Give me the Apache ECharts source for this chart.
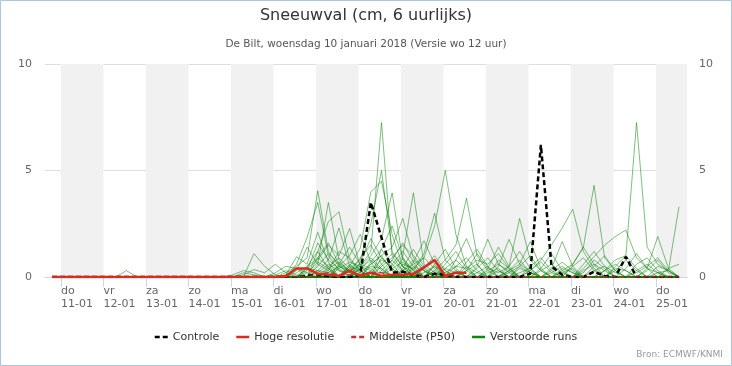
<!DOCTYPE html>
<html><head><meta charset="utf-8">
<script src="https://cdn.jsdelivr.net/npm/echarts@6/dist/echarts.min.js"></script>
<style>html,body{margin:0;padding:0;background:#fff}#c{width:732px;height:366px}</style>
</head><body><div id="c"></div>
<script>
// ---- labels ----
const titleText = 'Sneeuwval (cm, 6 uurlijks)';
const subtitleText = 'De Bilt, woensdag 10 januari 2018 (Versie wo 12 uur)';
const sourceText = 'Bron: ECMWF/KNMI';
const dayNames = ['do','vr','za','zo','ma','di','wo','do','vr','za','zo','ma','di','wo','do'];
const dayDates = ['11-01','12-01','13-01','14-01','15-01','16-01','17-01','18-01','19-01','20-01','21-01','22-01','23-01','24-01','25-01'];
// tick positions: hours since do 11-01 00:00 (local)
const dayTicks = [0,24,48,72,96,120,144,168,192,216,240,264,288,312,336];
const yTicks = [0,5,10];
// 6-hourly forecast times (hours since do 11-01 00:00 local)
const runTimes = [-5,1,7,13,19,25,31,37,43,49,55,61,67,73,79,85,91,97,103,109,115,121,127,133,139,145,151,157,163,169,175,181,187,193,199,205,211,217,223,229,235,241,247,253,259,265,271,277,283,289,295,301,307,313,319,325,331,337,343,349];

// ---- series values (cm per 6 h) ----
const controle = [0, 0,0,0,0, 0,0,0,0, 0,0,0,0, 0,0,0,0, 0,0,0,0, 0,0,0,0.05, 0.1,0.05,0,0, 0.1,3.5,1.85,0.2, 0.25,0.1,0,0.15, 0.1,0,0,0, 0,0,0,0, 0.15,6.2,0.5,0.1, 0,0,0.25,0.05, 0,0.95,0,0, 0,0,0];
const hogeResolutie = [0, 0,0,0,0, 0,0,0,0, 0,0,0,0, 0,0,0,0, 0,0,0,0, 0,0.05,0.4,0.4, 0.15,0.1,0.05,0.3, 0.05,0.2,0.05,0.1, 0.1,0.15,0.45,0.8, 0.05,0.2,0.2];
const middelste = [0, 0,0,0,0, 0,0,0,0, 0,0,0,0, 0,0,0,0, 0,0,0,0, 0,0,0,0, 0.1,0.2,0.1,0.1, 0.1,0.2,0.2,0.1, 0.1,0.1,0,0, 0,0,0,0, 0,0,0,0, 0,0,0,0, 0,0,0,0, 0,0,0,0, 0,0,0];

const run01 = [0, 0,0,0,0, 0,0,0.3,0, 0,0,0,0, 0,0,0,0, 0,0,1.1,0.5, 0.1,0,0,0, 0.3,0.8,0.4,0, 0,0,0,0, 0.2,0,0,0, 0,0,0,0, 0.3,0.6,0.2,0, 0,0,0,0, 0,0,0,0, 0,0,0,0, 0,0,0];
const run02 = [0, 0,0,0,0, 0,0,0,0, 0,0,0,0, 0,0,0,0, 0,0.1,0.35,0.2, 0.6,0.2,0,0.5, 1.2,0.4,0,0, 0,0.6,1.0,0.3, 0,0,0,0.2, 0,0,0,0, 0,0,0,0, 0,0,0,0, 0,0,0,0, 0,0,0,0, 0,0,0];
const run03 = [0, 0,0,0,0, 0,0,0,0, 0,0,0,0, 0,0,0,0, 0,0,0,0, 0,0.2,0.5,0.9, 4.05,1.2,0.5,0.3, 0.6,0.4,0,0, 0.3,0.8,0.3,0, 0,0,0,0, 0,0,0,0.2, 0.4,0,0,0, 0,0,0,0, 0,0,0,0, 0,0,0];
const run04 = [0, 0,0,0,0, 0,0,0,0, 0,0,0,0, 0,0,0,0, 0,0,0,0, 0,0,0.3,1.4, 0.6,3.5,0.8,0.2, 0,0,0.9,0.4, 0,0,0,0, 0,0.3,0,0, 0,0,0,0, 0,0,0.2,0.5, 0.2,0,0,0, 0,0,0,0, 0,0,0];
const run05 = [0, 0,0,0,0, 0,0,0,0, 0,0,0,0, 0,0,0,0, 0,0,0,0, 0,0,0.6,1.86, 3.5,1.0,0.3,0, 0.4,0.8,0.3,0, 0,0,0.2,0.5, 0,0,0,0, 0,0,0,0, 0,0,0,0, 0,0.3,0.6,0.3, 0,0,0,0, 0,0,0];
const run06 = [0, 0,0,0,0, 0,0,0,0, 0,0,0,0, 0,0,0,0, 0,0,0,0, 0,0,0,0, 1.2,2.6,3.06,0.8, 0.3,0,0,0.6, 1.2,0.5,0,0, 0,0,0,0.2, 0.5,0,0,0, 0,0,0,0, 0,0,0,0, 0,0,0,0, 0,0,0];
const run07 = [0, 0,0,0,0, 0,0,0,0, 0,0,0,0, 0,0,0,0, 0,0,0,0, 0,0,0,0.4, 0.8,1.5,1.0,2.28, 0.5,0,1.3,0.6, 0,0,0,0, 0.4,0.8,0.3,0, 0,0,0,0, 0,0,0,0, 0,0,0,0, 0,0,0.3,0.6, 0.2,0,0];
const run08 = [0, 0,0,0,0, 0,0,0,0, 0,0,0,0, 0,0,0,0, 0,0,0,0, 0,0,0,0, 0,0,0.4,0.7, 0.5,1.2,7.25,1.0, 0.3,0,0,0.3, 0,0,0,0, 0,0,0,0.4, 0.2,0,0,0, 0,0,0,0, 0,0,0,0, 0,0,0];
const run09 = [0, 0,0,0,0, 0,0,0,0, 0,0,0,0, 0,0,0,0, 0,0,0,0, 0,0,0,0, 0,0.5,0.9,0.4, 0.8,2.5,5.0,1.2, 0.5,0,0,0, 0,0,0.3,0.6, 0,0,0,0, 0,0,0,0, 0,0,0,0, 0,0,0,0, 0,0,0];
const run10 = [0, 0,0,0,0, 0,0,0,0, 0,0,0,0, 0,0,0,0, 0,0,0,0, 0,0,0,0, 0.6,0.3,0,0.5, 1.35,4.0,4.5,2.0, 0.5,0.2,0,0, 0,0,0,0, 0,0.3,0,0, 0,0,0,0, 0,0,0,0, 0,0,0,0, 0,0,0];
const run11 = [0, 0,0,0,0, 0,0,0,0, 0,0,0,0, 0,0,0,0, 0,0,0,0, 0,0,0,0, 0,0,0,0.3, 0.5,1.0,1.8,3.95, 0.8,0.3,0,0, 0,0,0,0, 0,0,0,0, 0.3,0.7,0.2,0, 0,0,0,0, 0,0,0,0, 0,0,0];
const run12 = [0, 0,0,0,0, 0,0,0,0, 0,0,0,0, 0,0,0,0, 0,0,0,0, 0,0,0,0, 0,0,0,0, 0.2,0.6,1.0,1.4, 2.75,0.9,0.3,0, 0,0,0,0, 0,0,0,0, 0,0,0,0.4, 0.2,0,0,0, 0,0,0,0, 0,0,0];
const run13 = [0, 0,0,0,0, 0,0,0,0, 0,0,0,0, 0,0,0,0, 0,0,0,0, 0,0,0,0, 0,0,0,0, 0,0.3,0.8,0.5, 1.0,3.95,0.6,0.2, 0,0,0,0, 0,0,0.3,0.8, 0.2,0,0,0, 0,0,0,0, 0,0,0,0, 0,0,0];
const run14 = [0, 0,0,0,0, 0,0,0,0, 0,0,0,0, 0,0,0,0, 0,0,0,0, 0,0,0,0, 0,0,0,0, 0,0,0,0.4, 0.7,0.3,1.1,3.0, 0.8,0.3,0,0, 0,0,0,0, 0,0,0,0, 0,0,0,0, 0.4,0.3,0,0, 0,0,0];
const run15 = [0, 0,0,0,0, 0,0,0,0, 0,0,0,0, 0,0,0,0, 0,0,0,0, 0,0,0,0, 0,0,0,0, 0,0,0,0, 0.3,0.6,0.9,2.4, 5.0,2.0,0.5,0, 0,0,0,0, 0,0,0,0, 0,0,0,0, 0,0,0,0, 0,0,0];
const run16 = [0, 0,0,0,0, 0,0,0,0, 0,0,0,0, 0,0,0,0, 0,0,0,0, 0,0,0,0, 0,0,0,0, 0,0,0,0, 0,0,0,0.3, 0.8,1.5,3.7,1.0, 0.3,0,0,0, 0,0,0,0, 0,0,0.3,0.5, 0.2,0,0,0, 0,0,0];
const run17 = [0, 0,0,0,0, 0,0,0,0, 0,0,0,0, 0,0,0,0, 0,0,0,0, 0,0,0,0, 0,0,0,0, 0,0,0,0, 0,0,0,0, 0,0,0.3,1.1, 0.4,0.2,0.5,2.75, 0.8,0.3,0,0, 0,0,0,0, 0,0,0,0, 0,0,0];
const run18 = [0, 0,0,0,0, 0,0,0,0, 0,0,0,0, 0,0,0,0, 0,0,0,0, 0,0,0,0, 0,0,0,0, 0,0,0,0, 0,0,0,0, 0,0,0,0.5, 1.77,0.6,0.3,0, 0,0,0.4,1.66, 0.5,0,0,0, 0,0,0,0, 0,0,0];
const run19 = [0, 0,0,0,0, 0,0,0,0, 0,0,0,0, 0,0,0,0, 0,0,0,0, 0,0,0,0, 0,0,0,0, 0,0,0,0, 0,0,0,0, 0,0,0,0, 0.4,1.4,0.5,0, 0,0,0,0, 0.6,1.4,0.6,0, 0,0,0,0, 0.5,0.3,0];
const run20 = [0, 0,0,0,0, 0,0,0,0, 0,0,0,0, 0,0,0,0, 0,0,0,0, 0,0,0,0, 0,0,0,0, 0,0,0,0, 0,0,0,0, 0,0,0,0, 0,0.5,1.77,0.6, 1.66,0.4,0,0, 0,0,0,0, 0,0,0,0, 0,0,0];
const run21 = [0, 0,0,0,0, 0,0,0,0, 0,0,0,0, 0,0,0,0, 0,0,0,0, 0,0,0,0, 0,0,0,0, 0,0,0,0, 0,0,0,0, 0,0,0,0, 0,0,0,0, 0.3,0.8,1.5,2.3, 3.18,1.2,0.4,0, 0,0,0,0, 0,0,0];
const run22 = [0, 0,0,0,0, 0,0,0,0, 0,0,0,0, 0,0,0,0, 0,0,0,0, 0,0,0,0, 0,0,0,0, 0,0,0,0, 0,0,0,0, 0,0,0,0, 0,0,0,0, 0,0,0,0.3, 0.6,1.4,4.3,0.9, 0.3,0,0,0, 0,0,0];
const run23 = [0, 0,0,0,0, 0,0,0,0, 0,0,0,0, 0,0,0,0, 0,0,0,0, 0,0,0,0, 0,0,0,0, 0,0,0,0, 0,0,0,0, 0,0,0,0, 0,0,0,0, 0,0,0,0, 0,0.4,0.95,1.5, 1.9,2.2,0.9,0.4, 0.2,0,0];
const run24 = [0, 0,0,0,0, 0,0,0,0, 0,0,0,0, 0,0,0,0, 0,0,0,0, 0,0,0,0, 0,0,0,0, 0,0,0,0, 0,0,0,0, 0,0,0,0, 0,0,0,0, 0,0,0,0, 0,0,0,0.3, 0.8,1.0,7.25,1.4, 0.6,0.3,0];
const run25 = [0, 0,0,0,0, 0,0,0,0, 0,0,0,0, 0,0,0,0, 0,0,0,0, 0,0,0,0, 0,0,0,0, 0,0,0,0, 0,0,0,0, 0,0,0,0, 0,0,0,0, 0,0,0,0, 0,0,0,0, 0,0,0,0.4, 1.9,0.4,0];
const run26 = [0, 0,0,0,0, 0,0,0,0, 0,0,0,0, 0,0,0,0, 0,0,0,0, 0,0,0,0, 0,0,0,0, 0,0,0,0, 0,0,0,0, 0,0,0,0, 0,0,0.3,0.6, 0.3,0,0,0, 0,0,0,0, 0,0,0,0, 0.2,0.3,3.3];
const run27 = [0, 0,0,0,0, 0,0,0,0, 0,0,0,0, 0,0,0,0, 0,0,0,0, 0,0,0,0, 0,0,0,0, 0,0,0,0, 0,0,0,0, 0.2,0.5,0.4,0.8, 0.6,1.1,0.4,0, 0,0,0,0, 0,0,0,0, 0.5,1.0,0.4,0, 0,0,0];
const run28 = [0, 0,0,0,0, 0,0,0,0, 0,0,0,0, 0,0,0,0, 0,0,0,0, 0.2,0.5,0.4,0, 0.9,1.6,0.6,0, 0,0.5,0.4,0, 0,0,0,0, 0,0,0,0, 0,0,0,0, 0,0.3,0.6,0.2, 0,0,0,0, 0,0,0,0, 0,0,0];
const run29 = [0, 0,0,0,0, 0,0,0,0, 0,0,0,0, 0,0,0,0, 0,0,0,0, 0,0.1,0.95,0.6, 2.1,0.7,0,0.6, 0.2,0,0,0, 0,0.4,0.9,0.4, 0,0,0,0, 0,0,0,0, 0,0,0,0, 0,0,0,0, 0,0,0,0, 0,0,0];
const run30 = [0, 0,0,0,0, 0,0,0,0, 0,0,0,0, 0,0,0,0, 0,0,0,0, 0,0,0,0.3, 1.6,0.8,2.3,0.5, 0,0,0,0.8, 1.6,0.7,0,0, 0,0,0.5,0.2, 0,0,0,0, 0,0,0,0, 0,0,0,0, 0,0,0,0, 0,0,0];
const run31 = [0, 0,0,0,0, 0,0,0,0, 0,0,0,0, 0,0,0,0, 0,0,0,0, 0,0,0,0, 0.5,1.1,0.6,1.4, 0.6,0,0,0, 0,0.5,0.3,0, 0,0,0,0, 0,0,0,0, 0,0,0,0, 0.5,0.9,0.3,0, 0,0,0,0, 0,0,0];
const run32 = [0, 0,0,0,0, 0,0,0,0, 0,0,0,0, 0,0,0,0, 0,0,0,0, 0,0,0.2,0.5, 0.9,0.5,0,0, 0.7,1.8,0.9,0.4, 0,0,0,0, 0.6,1.2,0.4,0, 0,0,0,0, 0,0,0,0, 0,0,0,0, 0,0,0,0, 0,0,0];
const run33 = [0, 0,0,0,0, 0,0,0,0, 0,0,0,0, 0,0,0,0, 0,0,0,0, 0,0,0,0, 0,0.3,1.2,0.9, 0.3,0,0.6,1.1, 0.5,0,0,0, 0,0,0,0, 0.2,0.4,0,0, 0,0,0,0, 0,0,0,0, 0,0,0.6,0.9, 0.3,0,0];
const run34 = [0, 0,0,0,0, 0,0,0,0, 0,0,0,0, 0,0,0,0, 0,0,0,0, 0,0,0,0, 0,0,0.5,1.0, 2.0,0.7,0,0, 0.4,1.3,0.5,0, 0,0,0,0, 0,0,0,0.5, 1.0,0.3,0,0, 0,0,0,0, 0,0,0,0, 0,0,0];
const run35 = [0, 0,0,0,0, 0,0,0,0, 0,0,0,0, 0,0,0,0, 0,0,0,0, 0,0,0,0, 0.2,0.6,0.3,0.2, 0.9,1.5,0.6,0, 0,0,0.4,1.0, 0.3,0,0,0, 0,0,0,0, 0,0,0,0, 0,0.2,0.8,0.4, 0,0,0,0, 0,0,0];
const run36 = [0, 0,0,0,0, 0,0,0,0, 0,0,0,0, 0,0,0,0, 0,0,0,0, 0,0,0,0.2, 0.7,0.4,0,0, 0,0.7,1.3,2.4, 0.9,0,0,0, 0,0.5,0.9,0.3, 0,0,0,0, 0,0,0,0, 0,0,0,0, 0,0,0,0, 0,0,0];
const run37 = [0, 0,0,0,0, 0,0,0,0, 0,0,0,0, 0,0,0,0, 0,0,0,0, 0,0,0,0, 0,0,0,0.4, 0.2,0,0.5,0.9, 1.5,1.0,0.4,0, 0,0,0,0.4, 0.9,0.3,0,0, 0,0,0,0, 0,0,0,0.3, 0.6,0.3,0,0, 0,0,0];
const run38 = [0, 0,0,0,0, 0,0,0,0, 0,0,0,0, 0,0,0,0, 0.1,0.3,0.2,0, 0,0,0,0, 0,0.4,0.7,0.3, 0,0,0,0, 0,0.7,1.7,0.6, 0,0,0,0, 0,0,0,0, 0,0,0.3,0.7, 0.3,0,0,0, 0,0,0,0, 0,0.4,0.6];
const run39 = [0, 0,0,0,0, 0,0,0,0, 0,0,0,0, 0,0,0,0, 0,0.2,0.1,0, 0,0,0.4,0.2, 0,0,0,0, 0.5,0.3,0,0, 0,0,0,0.6, 1.3,0.4,0,0, 0,0,0.5,1.2, 0.4,0,0,0, 0,0,0,0, 0,0,0,0, 0,0,0];
const run40 = [0, 0,0,0,0, 0,0,0,0, 0,0,0,0, 0,0,0,0, 0,0,0,0, 0,0,0,0, 0.3,0.2,0,0, 0,0,0.3,0.8, 0.3,0,0,0, 0,0.8,1.8,0.6, 0,0,0,0, 0,0.4,1.1,0.3, 0,0,0,0, 0,0,0,0.3, 0.8,0.2,0];
const run41 = [0, 0,0,0,0, 0,0,0,0, 0,0,0,0, 0,0,0,0, 0,0,0,0, 0,0,0,0, 0,0,0,0.5, 0.3,0,0,0, 0.6,0.4,0,0, 0.4,0.2,0,0, 0,0.8,0.4,0, 0,0,0,0, 0,0.6,1.2,0.5, 0,0.4,1.1,0.4, 0,0,0];
const run42 = [0, 0,0,0,0, 0,0,0,0, 0,0,0,0, 0,0,0,0, 0,0,0,0, 0.1,0.3,0.1,0, 0,0.2,0.5,0.2, 0,0,0,0, 0,0,0.5,0.8, 0.3,0,0,0, 0,0,0,0, 0.5,0.9,0.3,0, 0,0,0,0, 0.3,0.8,0.3,0, 0,0,0];
const run43 = [0, 0,0,0,0, 0,0,0,0, 0,0,0,0, 0,0,0,0, 0,0,0,0, 0,0,0,0, 0,0,0,0, 0.4,0.9,0.4,0, 0,0,0,0, 0,0,0.7,1.3, 0.5,0,0,0, 0,0,0,0.2, 0.4,0,0,0, 0,0,0.2,0.5, 0.9,0.3,0];
const run44 = [0, 0,0,0,0, 0,0,0,0, 0,0,0,0, 0,0,0,0, 0,0,0,0, 0,0,0,0.4, 0.3,0,0.6,0.3, 0,0,0,0, 0.9,0.3,0,0.5, 0.2,0,0,0, 0,0,0.2,0.5, 0.2,0,0,0, 0,0,0.5,1.0, 0.3,0,0,0, 0,0,0];
const perturbedRuns = [run01,run02,run03,run04,run05,run06,run07,run08,run09,run10,run11,run12,run13,run14,run15,run16,run17,run18,run19,run20,run21,run22,run23,run24,run25,run26,run27,run28,run29,run30,run31,run32,run33,run34,run35,run36,run37,run38,run39,run40,run41,run42,run43,run44];

// ---- chart ----
const F = 'DejaVu Sans';
const xMin = -9, xMax = 353.5;
const pair = arr => arr.map((v, i) => [runTimes[i], v]);

const bands = [];
for (let k = 0; k < dayTicks.length; k += 2) {
  bands.push([{ xAxis: dayTicks[k] }, { xAxis: Math.min(dayTicks[k] + 24, xMax) }]);
}

const dashedIcon = 'path://M0,0h5v2.5h-5zM8,0h5v2.5h-5z';
const solidIcon = 'path://M0,0h13v2.5h-13z';

const series = [];
series.push({
  type: 'line', data: [], silent: true, z: -1, legendHoverLink: false,
  markArea: { silent: true, itemStyle: { color: '#f1f1f1' }, data: bands }
});
perturbedRuns.forEach(r => series.push({
  name: 'Verstoorde runs', type: 'line', data: pair(r), symbol: 'none', silent: true, z: 2,
  color: '#008000', lineStyle: { width: 1, color: '#008000', opacity: 0.5 }
}));
series.push({ name: 'Controle', type: 'line', data: pair(controle), symbol: 'none', silent: true, z: 3,
  color: '#000', lineStyle: { width: 2.5, type: [5, 3], color: '#000' } });
series.push({ name: 'Middelste (P50)', type: 'line', data: pair(middelste), symbol: 'none', silent: true, z: 4,
  color: '#c83232', lineStyle: { width: 1.5, type: [5, 3], color: '#c83232' } });
series.push({ name: 'Hoge resolutie', type: 'line', data: pair(hogeResolutie), symbol: 'none', silent: true, z: 5,
  color: '#dd2a1b', lineStyle: { width: 2.5, color: '#dd2a1b' } });

const graphics = [{ type: 'rect', silent: true, z: 100, shape: { x: 0.5, y: 0.5, width: 731, height: 365 },
  style: { fill: 'none', stroke: '#a9c6dd', lineWidth: 1 } }];

const chart = echarts.init(document.getElementById('c'), null, { renderer: 'canvas' });
chart.setOption({
  animation: false,
  backgroundColor: '#fff',
  title: [
    { text: titleText, left: 'center', top: 6, padding: 0, textStyle: { fontFamily: F, fontSize: 16, fontWeight: 'normal', color: '#333', lineHeight: 20 } },
    { text: subtitleText, left: 'center', top: 37, padding: 0, textStyle: { fontFamily: F, fontSize: 10.5, fontWeight: 'normal', color: '#555', lineHeight: 14 } },
    { text: sourceText, right: 9, top: 349, padding: 0, textStyle: { fontFamily: F, fontSize: 9, fontWeight: 'normal', color: '#999', lineHeight: 12 } }
  ],
  legend: {
    top: 330, left: 'center', padding: 0, itemWidth: 13, itemHeight: 2.5, itemGap: 17, selectedMode: false,
    textStyle: { fontFamily: F, fontSize: 11, color: '#333', lineHeight: 14 },
    data: [
      { name: 'Controle', icon: dashedIcon, itemStyle: { color: '#000' } },
      { name: 'Hoge resolutie', icon: solidIcon, itemStyle: { color: '#dd2a1b' } },
      { name: 'Middelste (P50)', icon: dashedIcon, itemStyle: { color: '#c83232' } },
      { name: 'Verstoorde runs', icon: solidIcon, itemStyle: { color: '#0a8a0a' } }
    ]
  },
  grid: { left: 45, right: 45, top: 64, bottom: 89, containLabel: false },
  xAxis: {
    type: 'value', min: xMin, max: xMax,
    axisLine: { show: true, lineStyle: { color: '#ccd6eb' } },
    axisTick: { show: true, customValues: dayTicks, length: 10, lineStyle: { color: '#ccd6eb' } },
    axisLabel: {
      customValues: dayTicks, align: 'left', margin: 8, color: '#666', fontFamily: F, fontSize: 11,
      formatter: v => { const k = dayTicks.indexOf(v); return '{a|' + dayNames[k] + '}\n{b|' + dayDates[k] + '}'; },
      rich: {
        a: { fontFamily: F, fontSize: 11, color: '#666', lineHeight: 13, align: 'left' },
        b: { fontFamily: F, fontSize: 11, color: '#666', lineHeight: 13, align: 'left' }
      }
    },
    splitLine: { show: false }
  },
  yAxis: [
    { type: 'value', min: yTicks[0], max: yTicks[2], interval: 5, position: 'left',
      axisLine: { show: false }, axisTick: { show: false },
      axisLabel: { color: '#666', fontFamily: F, fontSize: 11, margin: 13 },
      splitLine: { lineStyle: { color: '#dedede' } } },
    { type: 'value', min: yTicks[0], max: yTicks[2], interval: 5, position: 'right',
      axisLine: { show: false }, axisTick: { show: false },
      axisLabel: { color: '#666', fontFamily: F, fontSize: 11, margin: 12 },
      splitLine: { show: false } }
  ],
  graphic: graphics,
  series: series
});
</script>
</body></html>
